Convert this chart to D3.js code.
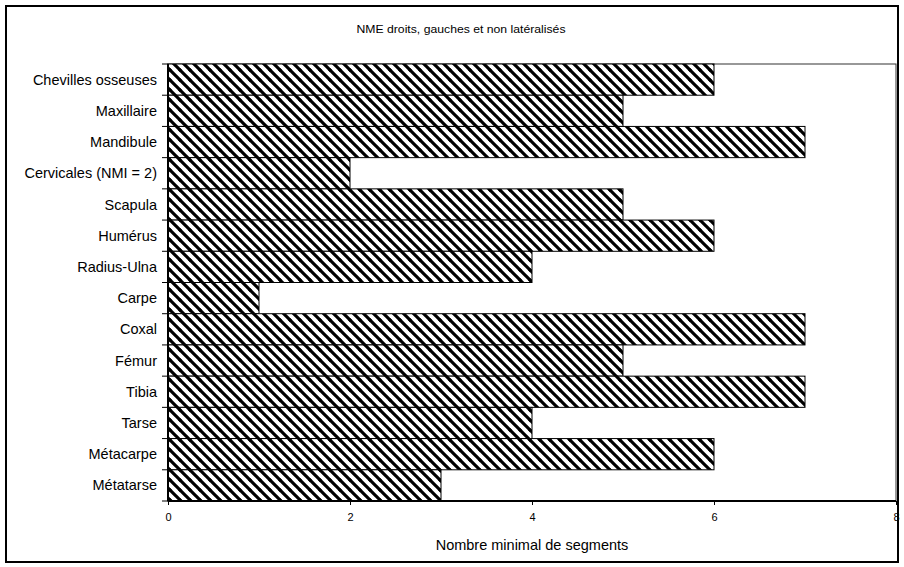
<!DOCTYPE html>
<html><head><meta charset="utf-8">
<script src="https://cdn.jsdelivr.net/npm/d3@7"></script>
<style>body{margin:0;background:#fff}svg{display:block}text{font-family:Arial,"Liberation Sans",sans-serif;fill:#000}</style>
</head><body>
<script>
const categories = ["Chevilles osseuses","Maxillaire","Mandibule","Cervicales (NMI = 2)","Scapula","Humérus","Radius-Ulna","Carpe","Coxal","Fémur","Tibia","Tarse","Métacarpe","Métatarse"];
const values = [6,5,7,2,5,6,4,1,7,5,7,4,6,3];
const xTicks = [0,2,4,6,8];
const title = "NME droits, gauches et non latéralisés";
const xLabel = "Nombre minimal de segments";

const W=904,H=567;
const svg=d3.select("body").append("svg").attr("width",W).attr("height",H);
const defs=svg.append("defs");
const pat=defs.append("pattern").attr("id","hatch").attr("patternUnits","userSpaceOnUse").attr("width",10).attr("height",10);
pat.append("rect").attr("width",10).attr("height",10).attr("fill","#fff");
[[0,0,10,10],[-5,5,5,15],[5,-5,15,5],[-10,0,0,10],[10,0,20,10],[0,-10,10,0],[0,10,10,20]].forEach(l=>{
  pat.append("line").attr("x1",l[0]).attr("y1",l[1]).attr("x2",l[2]).attr("y2",l[3]).attr("stroke","#000").attr("stroke-width",3.1);
});

svg.append("rect").attr("x",6).attr("y",6).attr("width",892).attr("height",556).attr("fill","none").attr("stroke","#000").attr("stroke-width",2);

const L=168,R=896,T=64,B=501;
const x=d3.scaleLinear().domain([0,8]).range([L,R]);
const y=d3.scaleBand().domain(categories).range([T,B]).padding(0);

svg.append("rect").attr("x",L).attr("y",T).attr("width",R-L).attr("height",B-T).attr("fill","none").attr("stroke","#333").attr("stroke-width",1);

svg.append("text").attr("x",461).attr("y",33).attr("text-anchor","middle").attr("font-size",10.5)
  .attr("textLength",209).attr("lengthAdjust","spacingAndGlyphs").text(title);

svg.append("g").selectAll("rect").data(categories).join("rect")
  .attr("x",x(0)).attr("y",d=>y(d)).attr("width",(d,i)=>x(values[i])-x(0)).attr("height",y.bandwidth())
  .attr("fill","url(#hatch)").attr("stroke","#000").attr("stroke-width",1);

// x axis
const xa=svg.append("g").attr("transform",`translate(0,${B})`).call(d3.axisBottom(x).tickValues(xTicks).tickSize(4).tickPadding(8).tickFormat(d3.format("d")));
xa.select(".domain").attr("stroke","#000").attr("stroke-width",2).attr("d",`M${L},0H${R}`);
xa.selectAll(".tick line").attr("stroke","#000");
xa.selectAll("text").attr("font-size",11).attr("font-family","Arial,'Liberation Sans',sans-serif");

// y axis
const ya=svg.append("g").attr("transform",`translate(${L},0)`);
ya.append("line").attr("x1",0).attr("x2",0).attr("y1",T).attr("y2",B).attr("stroke","#000").attr("stroke-width",2);
const bounds=categories.map(d=>y(d)).concat([B]);
ya.selectAll("line.t").data(bounds).join("line").attr("class","t").attr("x1",-6).attr("x2",0).attr("y1",d=>d).attr("y2",d=>d).attr("stroke","#000");
ya.selectAll("text").data(categories).join("text").attr("x",-11).attr("y",d=>y(d)+y.bandwidth()/2).attr("dy","0.35em").attr("text-anchor","end").attr("font-size",14.5).text(d=>d);

svg.append("text").attr("x",(L+R)/2).attr("y",550).attr("text-anchor","middle").attr("font-size",14.5).text(xLabel);
</script>
</body></html>
